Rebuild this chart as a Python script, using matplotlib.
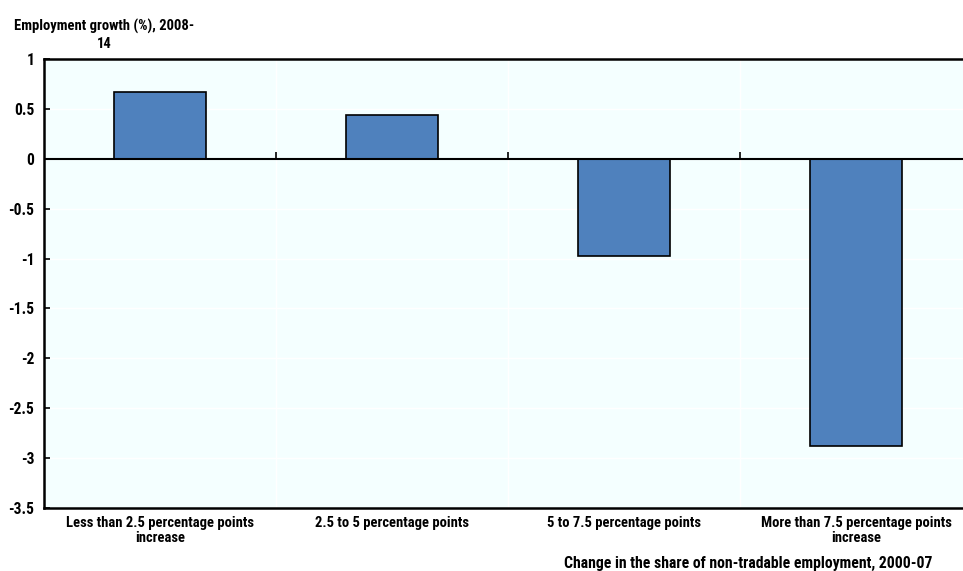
import numpy as np
import matplotlib.pyplot as plt
from matplotlib import font_manager

names = {f.name for f in font_manager.fontManager.ttflist}
fam = "Liberation Sans"
for cand in ["Liberation Sans Narrow", "Arial Narrow", "Roboto Condensed"]:
    if cand in names:
        fam = cand
        break
plt.rcParams['font.family'] = [fam, 'DejaVu Sans']
fs = 10.5 if fam != "Liberation Sans" else 9.3

categories = ["Less than 2.5 percentage points\nincrease",
              "2.5 to 5 percentage points",
              "5 to 7.5 percentage points",
              "More than 7.5 percentage points\nincrease"]
values = [0.67, 0.44, -0.97, -2.88]
yticks = [1, 0.5, 0, -0.5, -1, -1.5, -2, -2.5, -3, -3.5]
ylabels = ["1", "0.5", "0", "-0.5", "-1", "-1.5", "-2", "-2.5", "-3", "-3.5"]

fig = plt.figure(figsize=(9.63, 5.71), dpi=100)
ax = fig.add_axes([44/963, 1-508/571, 919/963, 449/571])
ax.set_facecolor("#F4FFFF")

x = np.arange(len(categories))
ax.bar(x, values, width=0.4, color="#4F81BD", edgecolor="black", linewidth=1.2, zorder=3)
ax.axhline(0, color="black", linewidth=1.5, zorder=4)
ax.plot(x[1:] - 0.5, [0]*3, linestyle="none", marker=2, markersize=5,
        markeredgewidth=1.2, color="black", zorder=4)

ax.set_xlim(-0.5, 3.5 - 9/232)
ax.set_ylim(-3.5, 1)
ax.set_yticks(yticks)
ax.set_yticklabels(ylabels, fontsize=fs + 0.7, fontweight="bold")
ax.set_xticks(x)
ax.set_xticklabels(categories, fontsize=fs, fontweight="bold", linespacing=1.1)
ax.tick_params(axis="x", length=0, pad=6)
ax.tick_params(axis="y", direction="in", length=4, width=1.2, pad=7)

for v in yticks:
    ax.axhline(v, color="white", linewidth=1, zorder=1)
for b in x[1:] - 0.5:
    ax.axvline(b, color="white", linewidth=1, zorder=1)

for s in ["left", "bottom", "top"]:
    ax.spines[s].set_linewidth(1.8)
ax.spines["right"].set_visible(False)

fig.text(104/963, 1-35/571, "Employment growth (%), 2008-\n14", ha="center", va="center",
         fontsize=fs, fontweight="bold", linespacing=1.25)
fig.text(932/963, 1-563/571, "Change in the share of non-tradable employment, 2000-07",
         ha="right", va="center", fontsize=fs * 1.08, fontweight="bold")

fig.savefig("out.png", dpi=100)
